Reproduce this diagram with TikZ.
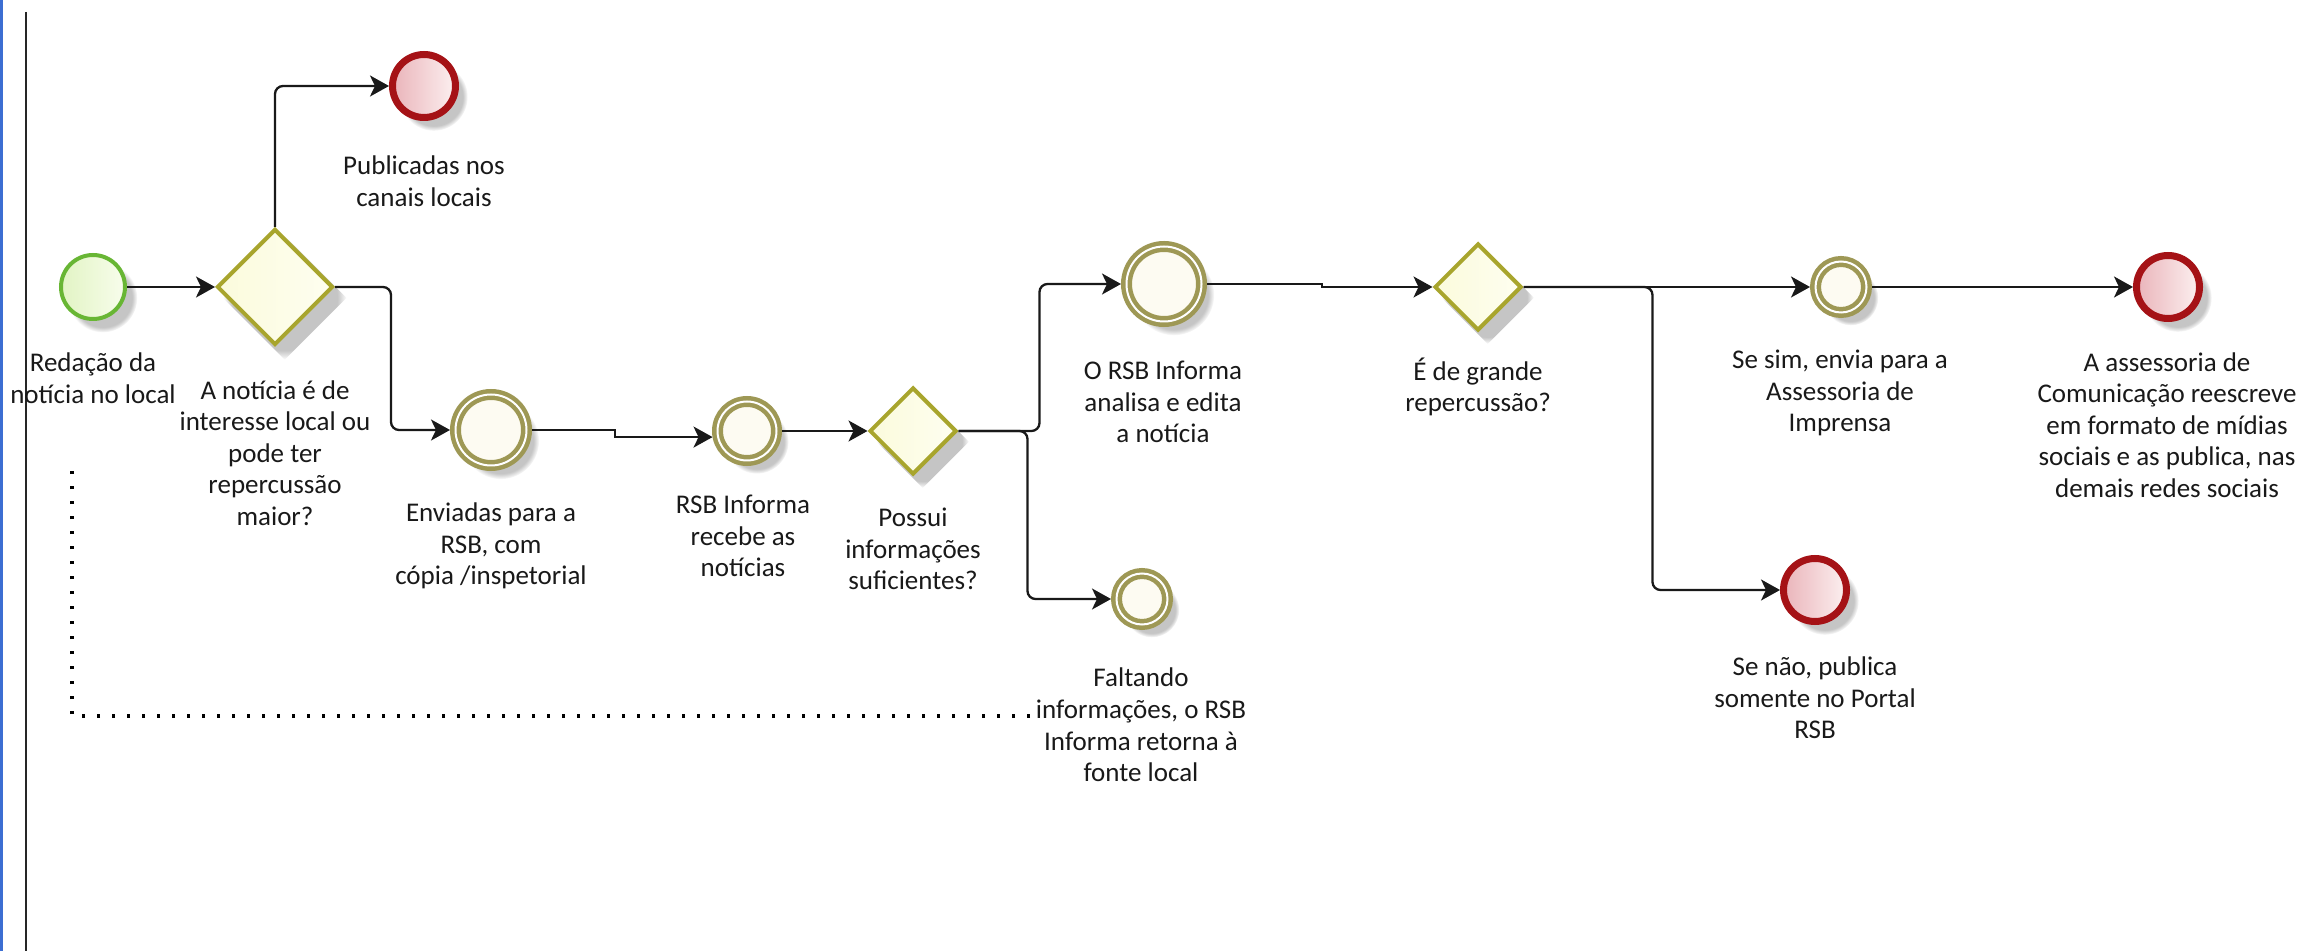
\documentclass[tikz,border=0pt]{standalone}
\usepackage{fontspec}
\setmainfont{Carlito}
\usetikzlibrary{arrows.meta,shapes.geometric,shadows,fadings}
\pgfdeclarelayer{bg}
\pgfsetlayers{bg,main}
\definecolor{startgreen}{RGB}{104,182,52}
\definecolor{startfillA}{RGB}{226,244,196}
\definecolor{startfillB}{RGB}{248,253,236}
\definecolor{gatestroke}{RGB}{168,165,45}
\definecolor{gatefillA}{RGB}{251,251,220}
\definecolor{gatefillB}{RGB}{254,254,240}
\definecolor{midstroke}{RGB}{158,152,85}
\definecolor{midfill}{RGB}{253,251,242}
\definecolor{endstroke}{RGB}{165,18,22}
\definecolor{endfillA}{RGB}{234,180,186}
\definecolor{endfillB}{RGB}{252,240,240}
\definecolor{laneblue}{RGB}{60,110,210}
\newcommand\bpmnflow[2][]{%
  \begin{pgfonlayer}{bg}\draw[ghostline,#1] #2;\end{pgfonlayer}%
  \draw[flowline,#1] #2;}
\begin{document}
\begin{tikzpicture}[x=0.5pt,y=-0.5pt,
  softshadow/.style={circular drop shadow={shadow xshift=4.5pt, shadow yshift=-5pt, opacity=.45, shadow scale=1.08}},
  startev/.style={circle, draw=startgreen, line width=2pt, minimum size=32pt, inner sep=0pt,
    left color=startfillA, right color=startfillB, softshadow},
  endev/.style={circle, draw=endstroke, line width=3.5pt, minimum size=31.5pt, inner sep=0pt,
    left color=endfillA, right color=endfillB, softshadow},
  midev/.style={circle, draw=midstroke, double=white, double distance=1pt, line width=2.25pt,
    fill=midfill, inner sep=0pt, outer sep=2.75pt, softshadow},
  gate/.style={diamond, shape aspect=1, draw=gatestroke, line width=2pt, inner sep=0pt,
    left color=gatefillA, right color=gatefillB, softshadow},
  lbl/.style={align=center, inner sep=0pt, text=black!90, font=\fontsize{13.5}{15.8}\selectfont},
  flowline/.style={draw=black!90, line width=1.15pt, rounded corners=4pt,
    -{Stealth[length=9.5pt, width=10.5pt, inset=2.5pt]}},
  ghostline/.style={draw=black!6, line width=1pt, rounded corners=4pt,
    -{Stealth[length=9.5pt, width=10.5pt, inset=2.5pt]},
    transform canvas={xshift=10.5pt, yshift=-10pt}},
  assocline/.style={draw=black, line width=1.7pt, dash pattern=on 1.7pt off 5.8pt},
]
\useasboundingbox (0,0) rectangle (2308,951);
\fill[white] (0,0) rectangle (2308,951);
\fill[laneblue] (0,0) rectangle (3,951);
\draw[black!85, line width=1.25pt] (26,12) -- (26,951);

% nodes
\node[startev] (start) at (93,287) {};
\node[gate, minimum size=58pt] (gw1) at (275,287) {};
\node[endev] (end1) at (424,86) {};
\node[midev, minimum size=35.5pt] (env) at (491,430) {};
\node[midev, minimum size=29.5pt] (recv) at (747,431) {};
\node[gate, minimum size=43.5pt] (gw2) at (913,431) {};
\node[midev, minimum size=37.5pt] (ana) at (1164,284) {};
\node[midev, minimum size=25.5pt] (falt) at (1142,599) {};
\node[gate, minimum size=43.5pt] (gw3) at (1478,287) {};
\node[midev, minimum size=25.5pt] (sesim) at (1841,287) {};
\node[endev] (assess) at (2168,287) {};
\node[endev] (senao) at (1815,590) {};

% labels
\node[lbl] (lstart) at (93,378) {Redação da\\notícia no local};
\node[lbl] (lgw1) at (275,453) {A notícia é de\\interesse local ou\\pode ter\\repercussão\\maior?};
\node[lbl] (lend1) at (424,181) {Publicadas nos\\canais locais};
\node[lbl] (lenv) at (491,546) {Enviadas para a\\RSB, com\\cópia /inspetorial};
\node[lbl] (lrecv) at (743,536) {RSB Informa\\recebe as\\notícias};
\node[lbl] (lgw2) at (913,549) {Possui\\informações\\suficientes?};
\node[lbl] (lana) at (1163,402) {O RSB Informa\\analisa e edita\\a notícia};
\node[lbl] (lfalt) at (1141,725) {Faltando\\informações, o RSB\\Informa retorna à\\fonte local};
\node[lbl] (lgw3) at (1478,387) {É de grande\\repercussão?};
\node[lbl] (lsesim) at (1840,393) {Se sim, envia para a\\Assessoria de\\Imprensa};
\node[lbl] (lassess) at (2167,425) {A assessoria de\\Comunicação reescreve\\em formato de mídias\\sociais e as publica, nas\\demais redes sociais};
\node[lbl] (lsenao) at (1815,698) {Se não, publica\\somente no Portal\\RSB};

% sequence flows
\bpmnflow{(start) -- (gw1)}
\bpmnflow{(gw1.north) |- (end1)}
\bpmnflow{(gw1.east) -- ++(56,0) |- (env)}
\bpmnflow[sharp corners]{(env.east) -- ++(83,0) |- (recv.190)}
\bpmnflow{(recv) -- (gw2)}
\bpmnflow{(gw2.east) -- ++(81,0) |- (ana)}
\bpmnflow{(gw2.east) -- ++(69,0) |- (falt)}
\bpmnflow[sharp corners]{(ana.east) -- ++(115,0) |- (gw3)}
\bpmnflow{(gw3) -- (sesim)}
\bpmnflow{(gw3.east) -- ++(129,0) |- (senao)}
\bpmnflow{(sesim) -- (assess)}

% association
\coordinate (asA) at (1030,716);
\coordinate (asB) at (72,461);
\begin{pgfonlayer}{bg}
\draw[draw=black!6, line width=1pt, rounded corners=4pt, transform canvas={xshift=10.5pt, yshift=-10pt}] (asA) -| (asB);
\end{pgfonlayer}
\draw[assocline] (asA) -| (asB);
\end{tikzpicture}
\end{document}
